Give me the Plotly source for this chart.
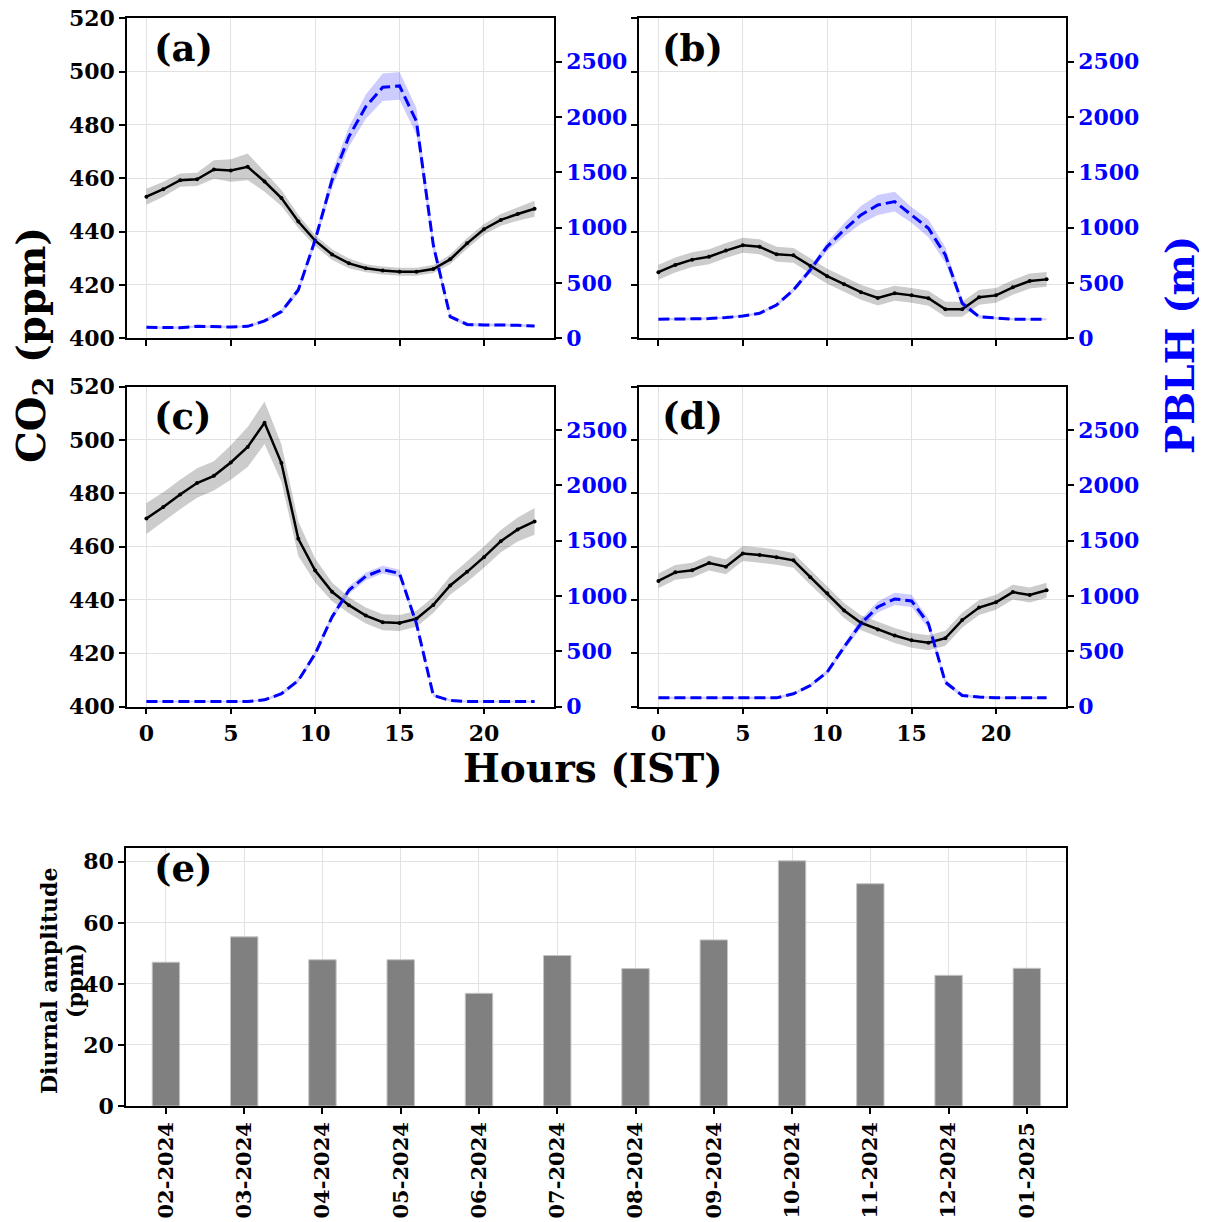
import plotly.graph_objects as go

W, H = 1207, 1222
OFF = 8  # page body margin

hours = list(range(24))

# Panel (a)
co2_a = [453.1, 455.9, 459.3, 459.6, 463.3, 462.9, 464.3, 458.8, 452.6, 443.8, 436.6, 431.4,
         428.1, 426.3, 425.4, 425.0, 425.0, 426.0, 429.6, 435.6, 440.9, 444.4, 446.6, 448.6]
co2_a_sd = [3.0, 2.8, 2.5, 2.5, 3.5, 4.2, 5.0, 3.8, 3.0, 2.5, 2.0, 2.0,
            1.8, 1.5, 1.5, 1.5, 1.5, 1.5, 1.8, 2.0, 2.0, 2.2, 2.5, 3.0]
pblh_a = [99, 96, 96, 108, 102, 102, 108, 157, 241, 437, 889, 1431,
          1823, 2094, 2269, 2281, 1960, 840, 196, 125, 121, 121, 118, 111]
pblh_a_sd = [10, 10, 10, 10, 10, 10, 10, 15, 20, 30, 40, 70,
             90, 110, 125, 125, 120, 60, 20, 15, 12, 12, 12, 12]

# Panel (b)
co2_b = [424.8, 427.5, 429.5, 430.6, 432.9, 434.9, 434.3, 431.5, 431.1, 427.1, 423.3, 420.3,
         417.3, 415.1, 416.9, 416.1, 415.0, 410.9, 410.9, 415.4, 416.1, 419.1, 421.5, 422.1]
co2_b_sd = [2.8] * 24
pblh_b = [172, 172, 172, 178, 187, 202, 226, 301, 437, 618, 829, 979,
          1115, 1205, 1235, 1114, 994, 753, 316, 195, 181, 172, 172, 172]
pblh_b_sd = [10, 10, 10, 10, 10, 10, 12, 15, 20, 30, 40, 60,
             80, 90, 90, 70, 80, 70, 30, 15, 12, 10, 10, 10]

# Panel (c)
co2_c = [470.5, 474.8, 479.5, 483.8, 486.5, 491.5, 497.3, 506.4, 491.3, 462.9, 451.0, 443.0,
         438.0, 434.1, 431.6, 431.3, 432.9, 438.1, 445.4, 450.5, 456.0, 462.0, 466.4, 469.4]
co2_c_sd = [5.8, 5.5, 5.5, 5.5, 5.5, 6.5, 7.5, 8.0, 7.0, 6.5, 4.5, 3.5,
            3.0, 3.0, 3.0, 3.0, 3.0, 3.0, 3.5, 3.8, 4.0, 4.2, 4.5, 5.0]
pblh_c = [45, 45, 45, 45, 45, 45, 45, 60, 115, 235, 477, 809,
          1051, 1177, 1238, 1202, 749, 100, 54, 45, 45, 45, 45, 45]
pblh_c_sd = [8, 8, 8, 8, 8, 8, 8, 10, 15, 20, 25, 30,
             35, 35, 35, 35, 30, 15, 10, 8, 8, 8, 8, 8]

# Panel (d)
co2_d = [447.1, 450.3, 451.1, 453.8, 452.4, 457.4, 456.8, 456.0, 454.8, 448.5, 442.5, 436.0,
         431.4, 428.9, 426.6, 424.8, 423.9, 425.6, 432.4, 437.1, 439.1, 442.9, 441.8, 443.6]
co2_d_sd = [2.8] * 24
pblh_d = [78, 78, 78, 78, 78, 78, 78, 78, 115, 190, 311, 537,
          749, 900, 972, 954, 749, 220, 100, 85, 78, 78, 78, 78]
pblh_d_sd = [10, 10, 10, 10, 10, 10, 10, 10, 12, 15, 20, 30,
             40, 50, 55, 55, 45, 25, 15, 12, 10, 10, 10, 10]

# Panel (e)
months = ["02-2024", "03-2024", "04-2024", "05-2024", "06-2024", "07-2024",
          "08-2024", "09-2024", "10-2024", "11-2024", "12-2024", "01-2025"]
amplitude = [47.1, 55.4, 47.9, 47.9, 36.9, 49.3, 45.0, 54.4, 80.3, 72.8, 42.8, 45.1]

panel_labels = ["(a)", "(b)", "(c)", "(d)", "(e)"]
co2_ticks = [400, 420, 440, 460, 480, 500, 520]
pblh_ticks = [0, 500, 1000, 1500, 2000, 2500]
hour_ticks = [0, 5, 10, 15, 20]
amp_ticks = [0, 20, 40, 60, 80]

FONT = "DejaVu Serif"
BLUE = "#0000ff"


def px(x):
    return (x - OFF) / W


def py(y):
    return 1 - (y - OFF) / H


fig = go.Figure()

panels = [
    (co2_a, co2_a_sd, pblh_a, pblh_a_sd),
    (co2_b, co2_b_sd, pblh_b, pblh_b_sd),
    (co2_c, co2_c_sd, pblh_c, pblh_c_sd),
    (co2_d, co2_d_sd, pblh_d, pblh_d_sd),
]

# pixel boxes: (x0, x1, ytop, ybottom)
boxes = [
    (127, 554, 18.3, 338.3),
    (639, 1066, 18.3, 338.3),
    (127, 554, 386.5, 706.5),
    (639, 1066, 386.5, 706.5),
]

layout = dict(
    width=W, height=H,
    margin=dict(l=0, r=0, t=0, b=0, autoexpand=False),
    plot_bgcolor="white", paper_bgcolor="white",
    showlegend=False,
    font=dict(family=FONT, color="black"),
)

tickfont = dict(family=FONT, size=22, color="black", weight="bold")
tickfont_b = dict(family=FONT, size=22, color=BLUE, weight="bold")
tickfont_m = dict(family=FONT, size=21, color="black", weight="bold")

common = dict(ticks="outside", ticklen=6, tickwidth=1.5, tickcolor="black",
              showline=True, linecolor="black", linewidth=1.5, zeroline=False,
              automargin=False, ticklabeloverflow="allow")

for i, ((co2, co2sd, pb, pbsd), (x0, x1, yt, yb)) in enumerate(zip(panels, boxes)):
    xa = f"x{i+1}" if i > 0 else "x"
    ya_left = f"y{2*i+1}" if i > 0 else "y"
    ya_right = f"y{2*i+2}"
    xkey = f"xaxis{i+1}" if i > 0 else "xaxis"
    ylkey = f"yaxis{2*i+1}" if i > 0 else "yaxis"
    yrkey = f"yaxis{2*i+2}"

    up = [m + s for m, s in zip(co2, co2sd)]
    lo = [m - s for m, s in zip(co2, co2sd)]
    fig.add_trace(go.Scatter(x=hours + hours[::-1], y=up + lo[::-1], fill="toself",
                             fillcolor="rgba(0,0,0,0.2)", line=dict(width=0),
                             xaxis=xa, yaxis=ya_left, hoverinfo="skip"))
    fig.add_trace(go.Scatter(x=hours, y=co2, mode="lines+markers",
                             line=dict(color="black", width=2.5),
                             marker=dict(size=4, color="black"),
                             xaxis=xa, yaxis=ya_left))

    pup = [m + s for m, s in zip(pb, pbsd)]
    plo = [m - s for m, s in zip(pb, pbsd)]
    fig.add_trace(go.Scatter(x=hours + hours[::-1], y=pup + plo[::-1], fill="toself",
                             fillcolor="rgba(0,0,255,0.2)", line=dict(width=0),
                             xaxis=xa, yaxis=ya_right, hoverinfo="skip"))
    fig.add_trace(go.Scatter(x=hours, y=pb, mode="lines",
                             line=dict(color=BLUE, width=3, dash="11px,5px"),
                             xaxis=xa, yaxis=ya_right))

    layout[xkey] = dict(
        domain=[px(x0), px(x1)], anchor=ya_left, range=[-1.15, 24.15],
        tickvals=hour_ticks, showticklabels=(i >= 2), tickfont=tickfont,
        mirror=True, showgrid=True, gridcolor="#e2e2e2", gridwidth=1, **common,
    )
    layout[ylkey] = dict(
        domain=[py(yb), py(yt)], anchor=xa, range=[400, 520],
        tickvals=co2_ticks, showticklabels=(i % 2 == 0), tickfont=tickfont,
        mirror=True, showgrid=True, gridcolor="#e2e2e2", gridwidth=1, **common,
    )
    layout[yrkey] = dict(
        overlaying=ya_left, anchor=xa, side="right", range=[0, 2892],
        tickvals=pblh_ticks, tickfont=tickfont_b, showgrid=False, **common,
    )

# Panel (e)
fig.add_trace(go.Bar(x=list(range(len(months))), y=amplitude, width=0.35,
                     marker=dict(color="#808080", line=dict(color="#c4c4c4", width=1)),
                     xaxis="x5", yaxis="y9"))
layout["xaxis5"] = dict(
    domain=[px(126), px(1066)], anchor="y9", range=[-0.51, 11.5],
    tickvals=list(range(len(months))), ticktext=months, tickangle=-90,
    tickfont=tickfont_m, mirror=True,
    showgrid=True, gridcolor="#e2e2e2", gridwidth=1, layer="above traces", **common,
)
layout["yaxis9"] = dict(
    domain=[py(1106), py(848.3)], anchor="x5", range=[0, 84.4],
    tickvals=amp_ticks, tickfont=tickfont, mirror=True,
    showgrid=True, gridcolor="#e2e2e2", gridwidth=1, layer="above traces", **common,
)

annotations = []
label_pos = [(152, 48), (660, 48), (152, 416), (660, 416), (152, 868)]
for lab, (lx, ly) in zip(panel_labels, label_pos):
    annotations.append(dict(text=lab, x=px(lx), y=py(ly), xref="paper", yref="paper",
                            xanchor="left", yanchor="middle", showarrow=False,
                            font=dict(family=FONT, size=37, color="black", weight="bold")))

annotations.append(dict(text="CO<sub>2</sub> (ppm)", x=px(33), y=py(345), xref="paper", yref="paper",
                        xanchor="center", yanchor="middle", showarrow=False, textangle=-90,
                        font=dict(family=FONT, size=40, color="black", weight="bold")))
annotations.append(dict(text="PBLH (m)", x=px(1180), y=py(345), xref="paper", yref="paper",
                        xanchor="center", yanchor="middle", showarrow=False, textangle=-90,
                        font=dict(family=FONT, size=39, color=BLUE, weight="bold")))
annotations.append(dict(text="Hours (IST)", x=px(593), y=py(768), xref="paper", yref="paper",
                        xanchor="center", yanchor="middle", showarrow=False,
                        font=dict(family=FONT, size=39, color="black", weight="bold")))
annotations.append(dict(text="Diurnal amplitude", x=px(49), y=py(981), xref="paper", yref="paper",
                        xanchor="center", yanchor="middle", showarrow=False, textangle=-90,
                        font=dict(family=FONT, size=22, color="black", weight="bold")))
annotations.append(dict(text="(ppm)", x=px(75), y=py(981), xref="paper", yref="paper",
                        xanchor="center", yanchor="middle", showarrow=False, textangle=-90,
                        font=dict(family=FONT, size=22, color="black", weight="bold")))

layout["annotations"] = annotations
fig.update_layout(**layout)

fig.write_html("out.html")
